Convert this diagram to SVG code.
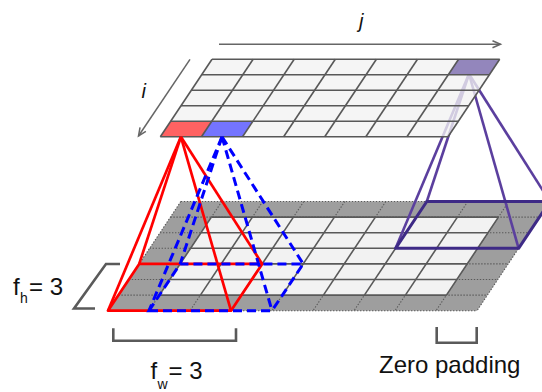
<svg xmlns="http://www.w3.org/2000/svg" width="542" height="392" viewBox="0 0 542 392">
<style>
.lbl{font-family:"Liberation Sans",Arial,sans-serif;fill:#111}
.ital{font-style:italic}
.dot{stroke:#5a5a5a;stroke-width:1.1;stroke-dasharray:1.4 1.6;fill:none}
.solid{stroke:#595959;stroke-width:1.6;fill:none}
.tg{stroke:#585858;stroke-width:1.6;fill:none}
.red{stroke:#ff0000;stroke-width:2.7;fill:none;stroke-linejoin:round}
.blue{stroke:#0000ff;stroke-width:3;fill:none;stroke-dasharray:9 5}
.pur{stroke:#5b3f9e;stroke-width:2.6;fill:none}
.purb{stroke:#3e2a86;stroke-width:3;fill:none;stroke-linejoin:round}
.brk{stroke:#5a5a5a;stroke-width:2.6;fill:none}
.arr{stroke:#666;stroke-width:1.5;fill:none}
</style>
<defs>
<marker id="chev" markerUnits="userSpaceOnUse" markerWidth="12" markerHeight="12" refX="10" refY="6" orient="auto">
<path d="M2,2.5 L10,6 L2,9.5" fill="none" stroke="#666" stroke-width="1.5"/>
</marker>
</defs>

<g id="bottom-grid">
<polygon points="180.8,201.5 549.8,201.5 477,310.7 108,310.7" fill="#9e9e9e"/>
<g class="dot">
<line x1="180.8" y1="201.5" x2="549.8" y2="201.5"/>
<line x1="170.4" y1="217.1" x2="539.4" y2="217.1"/>
<line x1="160" y1="232.7" x2="529" y2="232.7"/>
<line x1="149.6" y1="248.3" x2="518.6" y2="248.3"/>
<line x1="139.2" y1="263.9" x2="508.2" y2="263.9"/>
<line x1="128.8" y1="279.5" x2="497.8" y2="279.5"/>
<line x1="118.4" y1="295.1" x2="487.4" y2="295.1"/>
<line x1="108" y1="310.7" x2="477" y2="310.7"/>
<line x1="180.8" y1="201.5" x2="108" y2="310.7"/>
<line x1="221.8" y1="201.5" x2="149" y2="310.7"/>
<line x1="262.8" y1="201.5" x2="190" y2="310.7"/>
<line x1="303.8" y1="201.5" x2="231" y2="310.7"/>
<line x1="344.8" y1="201.5" x2="272" y2="310.7"/>
<line x1="385.8" y1="201.5" x2="313" y2="310.7"/>
<line x1="426.8" y1="201.5" x2="354" y2="310.7"/>
<line x1="467.8" y1="201.5" x2="395" y2="310.7"/>
<line x1="508.8" y1="201.5" x2="436" y2="310.7"/>
<line x1="549.8" y1="201.5" x2="477" y2="310.7"/>
</g>
<polygon points="211.4,217.1 498.4,217.1 446.4,295.1 159.4,295.1" fill="#f2f2f2"/>
<g class="solid">
<line x1="211.4" y1="217.1" x2="498.4" y2="217.1"/>
<line x1="201" y1="232.7" x2="488" y2="232.7"/>
<line x1="190.6" y1="248.3" x2="477.6" y2="248.3"/>
<line x1="180.2" y1="263.9" x2="467.2" y2="263.9"/>
<line x1="169.8" y1="279.5" x2="456.8" y2="279.5"/>
<line x1="159.4" y1="295.1" x2="446.4" y2="295.1"/>
<line x1="211.4" y1="217.1" x2="159.4" y2="295.1"/>
<line x1="252.4" y1="217.1" x2="200.4" y2="295.1"/>
<line x1="293.4" y1="217.1" x2="241.4" y2="295.1"/>
<line x1="334.4" y1="217.1" x2="282.4" y2="295.1"/>
<line x1="375.4" y1="217.1" x2="323.4" y2="295.1"/>
<line x1="416.4" y1="217.1" x2="364.4" y2="295.1"/>
<line x1="457.4" y1="217.1" x2="405.4" y2="295.1"/>
<line x1="498.4" y1="217.1" x2="446.4" y2="295.1"/>
</g>
</g>

<g id="pyramid-purple">
<g class="pur">
<line x1="469" y1="74" x2="395.6" y2="248.3"/>
<line x1="469" y1="74" x2="426.8" y2="201.5"/>
<line x1="469" y1="74" x2="518.6" y2="248.3"/>
<line x1="469" y1="74" x2="549.8" y2="201.5"/>
</g>
<polygon class="purb" points="395.6,248.3 518.6,248.3 549.8,201.5 426.8,201.5"/>
</g>

<g id="top-grid">
<polygon points="212,59.3 499.7,59.3 448.03,136.8 160.33,136.8" fill="#f2f2f2" fill-opacity="0.78"/>
<polygon id="cell-purple" points="458.6,59.3 499.7,59.3 489.37,74.8 448.27,74.8" fill="#8a7cb6" fill-opacity="0.92"/>
<polygon id="cell-red" points="170.67,121.3 211.77,121.3 201.43,136.8 160.33,136.8" fill="#ff6262"/>
<polygon id="cell-blue" points="211.77,121.3 252.87,121.3 242.53,136.8 201.43,136.8" fill="#7474ff"/>
<g class="tg">
<line x1="212" y1="59.3" x2="499.7" y2="59.3"/>
<line x1="201.67" y1="74.8" x2="489.37" y2="74.8"/>
<line x1="191.33" y1="90.3" x2="479.03" y2="90.3"/>
<line x1="181" y1="105.8" x2="468.7" y2="105.8"/>
<line x1="170.67" y1="121.3" x2="458.37" y2="121.3"/>
<line x1="160.33" y1="136.8" x2="448.03" y2="136.8"/>
<line x1="212" y1="59.3" x2="160.33" y2="136.8"/>
<line x1="253.1" y1="59.3" x2="201.43" y2="136.8"/>
<line x1="294.2" y1="59.3" x2="242.53" y2="136.8"/>
<line x1="335.3" y1="59.3" x2="283.63" y2="136.8"/>
<line x1="376.4" y1="59.3" x2="324.73" y2="136.8"/>
<line x1="417.5" y1="59.3" x2="365.83" y2="136.8"/>
<line x1="458.6" y1="59.3" x2="406.93" y2="136.8"/>
<line x1="499.7" y1="59.3" x2="448.03" y2="136.8"/>
</g>
</g>

<g id="pyramid-red" class="red">
<line x1="180.9" y1="136.8" x2="108" y2="310.7"/>
<line x1="180.9" y1="136.8" x2="139.2" y2="263.9"/>
<line x1="180.9" y1="136.8" x2="231" y2="310.7"/>
<line x1="180.9" y1="136.8" x2="262.2" y2="263.9"/>
<polygon points="108,310.7 231,310.7 262.2,263.9 139.2,263.9"/>
</g>

<g id="pyramid-blue" class="blue">
<line x1="222" y1="136.8" x2="149" y2="310.7"/>
<line x1="222" y1="136.8" x2="180.2" y2="263.9"/>
<line x1="222" y1="136.8" x2="272" y2="310.7"/>
<line x1="222" y1="136.8" x2="303.2" y2="263.9"/>
<polygon points="149,310.7 272,310.7 303.2,263.9 180.2,263.9"/>
</g>

<g id="connectors">
<line class="arr" x1="219" y1="44.3" x2="500.5" y2="44.3" marker-end="url(#chev)"/>
<line class="arr" x1="190" y1="59.3" x2="138.5" y2="136" marker-end="url(#chev)"/>
</g>

<g id="axis-labels">
<text class="lbl ital" x="359" y="28" font-size="20">j</text>
<text class="lbl ital" x="141.5" y="98.3" font-size="20">i</text>
</g>

<g id="fh-label">
<polyline class="brk" points="120,264 106,264 74,308.5 95,308.5"/>
<text class="lbl" x="13" y="295" font-size="24">f<tspan x="20" y="303" font-size="14">h</tspan><tspan x="29" y="295">= 3</tspan></text>
</g>

<g id="fw-label">
<polyline class="brk" points="113.3,328.3 113.3,340.7 236,340.7 236,328.3"/>
<text class="lbl" x="150.5" y="379.3" font-size="24">f<tspan x="157.6" y="389" font-size="14">w</tspan><tspan x="168.5" y="379.3">= 3</tspan></text>
</g>

<g id="padding-label">
<polyline class="brk" points="436.7,327 436.7,342.7 476.7,342.7 476.7,327"/>
<text class="lbl" x="379" y="373" font-size="24">Zero padding</text>
</g>
</svg>
